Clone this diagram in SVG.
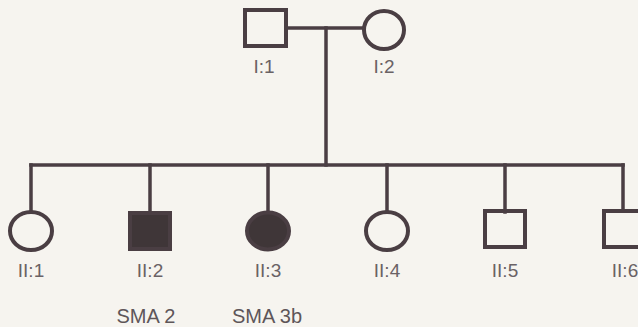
<svg xmlns="http://www.w3.org/2000/svg" width="638" height="327" viewBox="0 0 638 327">
  <style>
    .sym { fill: none; stroke: #4a3e43; stroke-width: 4; }
    .aff { fill: #3f3638; stroke: #4a3e43; stroke-width: 4; }
    .line { fill: none; stroke: #4a3e43; stroke-width: 3.5; stroke-linecap: square; }
    .lbl { font-family: "Liberation Sans", Arial, sans-serif; font-size: 19px; fill: #6a6265; text-anchor: middle; }
    .dx { font-family: "Liberation Sans", Arial, sans-serif; font-size: 20px; fill: #5e5659; text-anchor: middle; }
  </style>
  <rect width="638" height="327" fill="#f6f4ef"/>

  <!-- connectors: marriage, descent and sibship lines -->
  <g id="connectors">
    <path class="line" d="M286 28 H364"/>
    <path class="line" d="M326 28 V165"/>
    <path class="line" d="M31 165 H623"/>
    <path class="line" d="M31 165 V212"/>
    <path class="line" d="M150 165 V212"/>
    <path class="line" d="M268 165 V212"/>
    <path class="line" d="M387 165 V212"/>
    <path class="line" d="M505 165 V212"/>
    <path class="line" d="M623 165 V210"/>
  </g>

  <!-- generation I -->
  <g id="I-1">
    <rect class="sym" x="245" y="10" width="41" height="36"/>
    <text class="lbl" x="264" y="73">I:1</text>
  </g>
  <g id="I-2">
    <ellipse class="sym" cx="384" cy="30" rx="20" ry="19"/>
    <text class="lbl" x="384" y="73">I:2</text>
  </g>

  <!-- generation II -->
  <g id="II-1">
    <ellipse class="sym" cx="31" cy="231" rx="21" ry="19"/>
    <text class="lbl" x="31" y="277">II:1</text>
  </g>
  <g id="II-2">
    <rect class="aff" x="130" y="213" width="40" height="36"/>
    <text class="lbl" x="150" y="277">II:2</text>
    <text class="dx" x="146" y="323">SMA 2</text>
  </g>
  <g id="II-3">
    <ellipse class="aff" cx="268" cy="231" rx="21" ry="18.5"/>
    <text class="lbl" x="268" y="277">II:3</text>
    <text class="dx" x="267" y="323">SMA 3b</text>
  </g>
  <g id="II-4">
    <ellipse class="sym" cx="387" cy="231" rx="21" ry="19"/>
    <text class="lbl" x="387" y="277">II:4</text>
  </g>
  <g id="II-5">
    <rect class="sym" x="485" y="211" width="40" height="36"/>
    <text class="lbl" x="505" y="277">II:5</text>
  </g>
  <g id="II-6">
    <rect class="sym" x="604" y="211" width="40" height="36"/>
    <text class="lbl" x="625" y="277">II:6</text>
  </g>
</svg>
